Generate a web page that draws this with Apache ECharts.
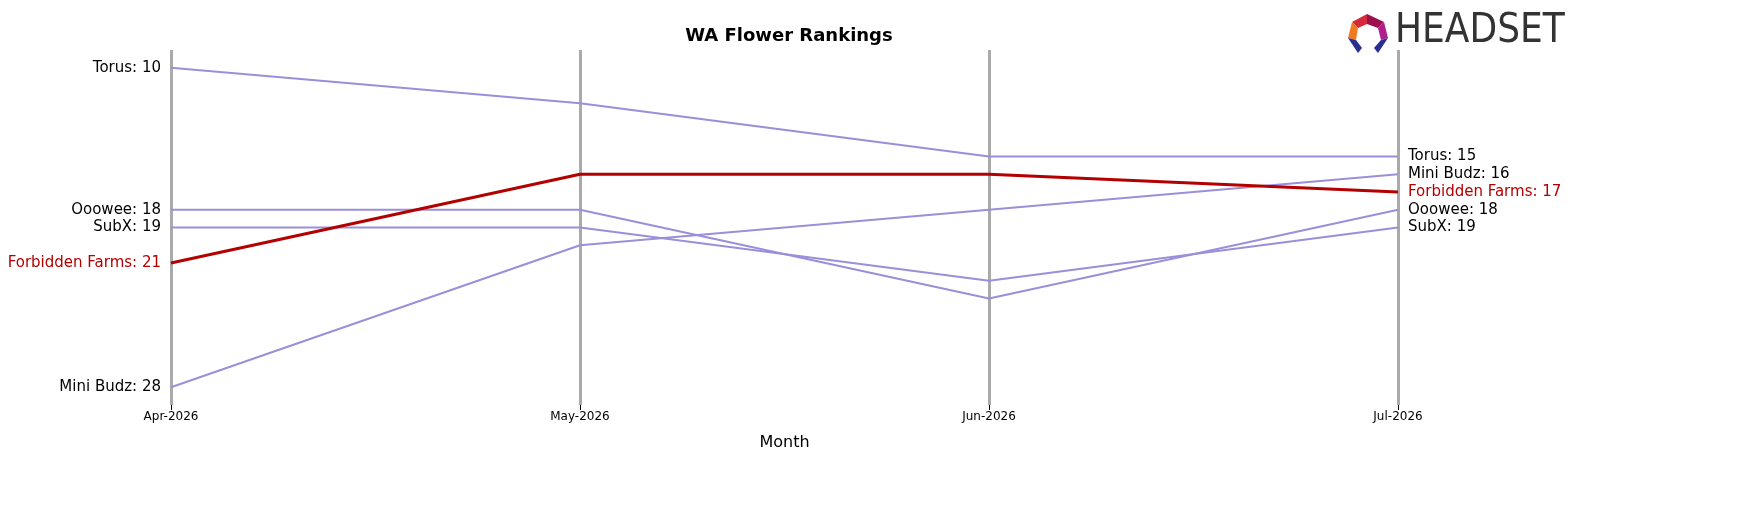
<!DOCTYPE html>
<html><head><meta charset="utf-8">
<script src="https://cdn.jsdelivr.net/npm/echarts@6/dist/echarts.min.js"></script>
<style>html,body{margin:0;padding:0;background:#fff}#c{width:1748px;height:507px}</style>
</head><body><div id="c"></div>
<script>
const months = ['Apr-2026','May-2026','Jun-2026','Jul-2026'];
const brands = ['Torus','Mini Budz','Ooowee','SubX','Forbidden Farms'];
const torus = [10,12,15,15];
const miniBudz = [28,20,18,16];
const ooowee = [18,18,23,18];
const subx = [19,19,22,19];
const forbidden = [21,16,16,17];
const values = [torus, miniBudz, ooowee, subx, forbidden];
const highlight = 'Forbidden Farms';

const font = 'DejaVu Sans';
const series = [];
brands.forEach((b,i)=>{
  const hi = b===highlight;
  const color = hi ? '#b30000' : '#9b8fd9';
  series.push({
    type:'line', name:b, z: hi?5:2, symbol:'none', animation:false,
    lineStyle:{color, width: hi?3:2},
    data: values[i]
  });
  const n = values[i].length;
  const lc = hi?'#b30000':'#000';
  const lab = (pos)=>({show:true, position:pos, distance:10, color:lc, opacity:1,
      fontSize:15, fontFamily:font, formatter:(p)=>b+': '+p.value[1]});
  series.push({
    type:'scatter', z:6, symbolSize:0, animation:false, silent:true,
    itemStyle:{color:'#ffffff', opacity:1},
    labelLayout:{hideOverlap:false},
    data:[
      {value:[0, values[i][0]], label:lab('left')},
      {value:[n-1, values[i][n-1]], label:lab('right')}
    ]
  });
});

const chart = echarts.init(document.getElementById('c'));
chart.setOption({
  animation:false,
  title:{text:'WA Flower Rankings', left:784, top:22, textAlign:'center',
    textStyle:{fontFamily:font, fontSize:18, fontWeight:'bold', color:'#000'}},
  grid:{left:171, right:350, top:50, bottom:102},
  xAxis:{type:'category', data:months, boundaryGap:false,
    name:'Month', nameLocation:'middle', nameGap:30,
    nameTextStyle:{fontFamily:font, fontSize:16, color:'#000'},
    axisLine:{show:false}, axisTick:{show:true, lineStyle:{color:'#000'}, length:5},
    axisLabel:{fontFamily:font, fontSize:12, color:'#000', margin:6},
    splitLine:{show:true, lineStyle:{color:'#aaa', width:3}}},
  yAxis:{type:'value', inverse:true, min:9, max:29, show:false},
  series,
  graphic:[
    {type:'polygon', shape:{points:[[1352,22],[1367,14],[1367,24],[1358,28]]}, style:{fill:'#d42a3a'}},
    {type:'polygon', shape:{points:[[1367,14],[1384,22],[1378,28],[1367,24]]}, style:{fill:'#9c1050'}},
    {type:'polygon', shape:{points:[[1384,22],[1388,38],[1381,40],[1378,28]]}, style:{fill:'#b0208a'}},
    {type:'polygon', shape:{points:[[1352,22],[1358,28],[1356,40],[1348,38]]}, style:{fill:'#f07a20'}},
    {type:'polygon', shape:{points:[[1348,38],[1356,40],[1362,48],[1358,53]]}, style:{fill:'#2a2f8f'}},
    {type:'polygon', shape:{points:[[1388,38],[1381,40],[1374,48],[1378,53]]}, style:{fill:'#2a2f8f'}},
    {type:'text', left:1395, top:12, style:{text:'HEADSET', fontFamily:'DejaVu Sans Condensed', fontSize:40, fill:'#333', fontWeight:'normal'}}
  ]
});
</script></body></html>
